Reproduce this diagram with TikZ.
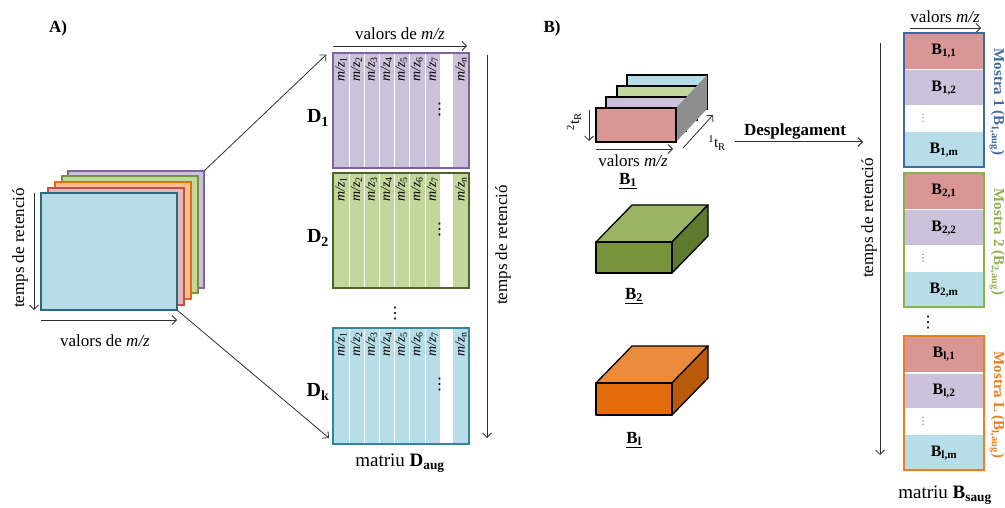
\documentclass[tikz,border=0pt]{standalone}
\usepackage{fontspec}
\setmainfont{Liberation Serif}
\newfontfamily\dotsfont{DejaVu Sans}
\usetikzlibrary{arrows.meta}

\definecolor{blueF}{HTML}{B7DDE8}
\definecolor{blueD}{HTML}{2A6A80}
\definecolor{pinkF}{HTML}{E6B9B8}
\definecolor{pinkD}{HTML}{C0504D}
\definecolor{pinkB}{HTML}{D99694}
\definecolor{orangeF}{HTML}{FAC090}
\definecolor{orangeD}{HTML}{E46C0A}
\definecolor{greenF}{HTML}{C3D69B}
\definecolor{greenD}{HTML}{77933C}
\definecolor{greenDD}{HTML}{4F6228}
\definecolor{purpleF}{HTML}{CCC1DA}
\definecolor{purpleD}{HTML}{8064A2}
\definecolor{tealD}{HTML}{31859C}
\definecolor{sampleA}{HTML}{3F6AA0}
\definecolor{sampleB}{HTML}{8DB04F}
\definecolor{sampleC}{HTML}{EE7D1E}
\definecolor{slabGf}{HTML}{77933C}
\definecolor{slabGt}{HTML}{9BB365}
\definecolor{slabGs}{HTML}{5F7A2E}
\definecolor{slabOf}{HTML}{E46C0A}
\definecolor{slabOt}{HTML}{EB8B3C}
\definecolor{slabOs}{HTML}{B85A0A}
\definecolor{ink}{HTML}{303030}
\definecolor{sidegray}{HTML}{8E8E8E}

\newcommand\fsz[1]{\fontsize{#1}{#1}\selectfont}

\tikzset{
  lbl/.style={font=\fsz{17}, inner sep=0, outer sep=0},
  big/.style={font=\fsz{19}, inner sep=0, outer sep=0},
  arr/.style={draw=ink, line width=0.8pt, -{Straight Barb[length=4.5pt,width=9pt]}},
  sheet/.style={anchor=north west, inner sep=0, outer sep=0, line width=1.3pt,
                minimum width=136, minimum height=117},
  mzlbl/.style={rotate=90, anchor=east, font=\fsz{14}, inner sep=0, outer sep=0},
  dname/.style={font=\fsz{20}\bfseries, inner sep=0, outer sep=0},
  layer/.style={anchor=north west, inner sep=0, outer sep=0, draw=black, line width=1.2pt,
                minimum width=80, minimum height=34},
  frame/.style={anchor=north west, inner sep=0, outer sep=0, line width=1.6pt,
                minimum width=80, minimum height=134},
  blbl/.style={font=\fsz{16}\bfseries, inner sep=0, outer sep=0},
  side/.style={rotate=-90, font=\fsz{15}\bfseries, inner sep=0, outer sep=0},
  slabline/.style={draw=black, line width=1.3pt, line join=round},
  vdot/.style={font=\dotsfont\fsz{#1}, inner sep=0, outer sep=0},
}

% one matrix block of the augmented matrix: name, top, height, fill, border
\newcommand\mzmatrix[5]{%
  \node[anchor=north west, inner sep=0, outer sep=0, minimum width=136,
        minimum height=#3, fill=#4] (#1) at (333,#2) {};
  \foreach \xx in {349,364,379,394,409,425}{
    \draw[white, line width=1pt] (\xx,#2) -- (\xx,#2+#3);
  }
  \fill[white] (440,#2) rectangle (453,#2+#3);
  \foreach \cx/\k in {341/1,356.5/2,371.5/3,386.5/4,401.5/5,417/6,432.5/7}{
    \node[mzlbl] (#1-\k) at (\cx,#2+4) {\textit{m/z}\textsubscript{\k}};
  }
  \node[mzlbl] (#1-n) at (461,#2+4) {\textit{m/z}\textsubscript{n}};
  \node[vdot=16] (#1-dots) at (439.5,#2+57) {⋮};
  \draw[draw=#5, line width=1.6pt] (#1.north west) rectangle (#1.south east);
}

% one sample of the unfolded matrix: name, top, index, colour, side label
\newcommand\samplebox[5]{%
  \fill[pinkB] (904,#2) rectangle (984,#2+36);
  \fill[purpleF] (904,#2+37.5) rectangle (984,#2+72);
  \fill[blueF] (904,#2+99) rectangle (984,#2+134);
  \node[frame, draw=#4] (#1) at (904,#2) {};
  \node[blbl] (#1-a) at (944,#2+18) {B\textsubscript{#3,1}};
  \node[blbl] (#1-b) at (944,#2+55) {B\textsubscript{#3,2}};
  \node[vdot=10, text=black!60] (#1-d) at (923,#2+85.5) {⋮};
  \node[blbl] (#1-m) at (944,#2+117) {B\textsubscript{#3,m}};
  \node[side, text=#4] (#1-s) at (997,#2+69) {#5};
}

% a solid slab seen in perspective: top of the front face, front height, colours
\newcommand\slab[5]{%
  \filldraw[slabline, fill=#4] (596,#1) -- (632,#1-37) -- (708,#1-37) -- (672,#1) -- cycle;
  \filldraw[slabline, fill=#5] (672,#1) -- (708,#1-37) -- (708,#1-37+#2) -- (672,#1+#2) -- cycle;
  \filldraw[slabline, fill=#3] (596,#1) rectangle (672,#1+#2);
}

\begin{document}
\begin{tikzpicture}[x=1pt,y=-1pt]
\useasboundingbox (0,0) rectangle (1005,508);

% ---------------- A) ----------------
\node[font=\fsz{17}\bfseries, inner sep=0] (A) at (58,28) {A)};

% stack of data matrices
\node[sheet, fill=purpleF, draw=purpleD] (s5) at (68,171) {};
\node[sheet, fill=greenF,  draw=greenD]  (s4) at (62,176) {};
\node[sheet, fill=orangeF, draw=orangeD] (s3) at (55,182) {};
\node[sheet, fill=pinkF,   draw=pinkD]   (s2) at (48,188) {};
\node[sheet, fill=blueF,   draw=blueD]   (s1) at (41,193) {};

\coordinate (tl0) at (34,193);
\coordinate (tl1) at (34,310);
\draw[arr] (tl0) -- (tl1);
\node[lbl, rotate=90] (tlab) at (20,248) {temps de retenció};
\coordinate (ml0) at (41,320);
\coordinate (ml1) at (177,320);
\draw[arr] (ml0) -- (ml1);
\node[lbl] (mlab) at (105,341) {valors de \textit{m/z}};

% augmented matrix
\mzmatrix{D1m}{53}{115}{purpleF}{purpleD}
\mzmatrix{D2m}{173}{115}{greenF}{greenDD}
\mzmatrix{Dkm}{328}{116}{blueF}{tealD}

\node[dname] (D1) at (318,118) {D\textsubscript{1}};
\node[dname] (D2) at (318,238) {D\textsubscript{2}};
\node[dname] (Dk) at (318,392) {D\textsubscript{k}};
\node[vdot=16] (Ddots) at (395,314) {⋮};

\draw[arr, shorten >=1pt] (s5.north east) -- (327,54);
\draw[arr] (s1.south east) -- (329,438);

\coordinate (mt0) at (333,46);
\coordinate (mt1) at (467,46);
\draw[arr] (mt0) -- (mt1);
\node[lbl] (mtl) at (400,34) {valors de \textit{m/z}};
\coordinate (tr0) at (487,55);
\coordinate (tr1) at (487,438);
\draw[arr] (tr0) -- (tr1);
\node[lbl, rotate=90] (trl) at (503,245) {temps de retenció};
\node[big] (Daug) at (400,463) {matriu \textbf{D\textsubscript{aug}}};

% ---------------- B) ----------------
\node[font=\fsz{17}\bfseries, inner sep=0] (B) at (552,28) {B)};

% first sample as a stack of slices
\node[layer, fill=blueF]   (b4) at (627,75) {};
\node[layer, fill=greenF]  (b3) at (617,86) {};
\node[layer, fill=purpleF] (b2) at (606,97) {};
\fill[sidegray] (676,108) -- (707,75) -- (707,109) -- (676,142) -- cycle;
\node[layer, fill=pinkB]   (b1) at (596,108) {};

\coordinate (v0) at (589,110);
\coordinate (v1) at (589,141);
\draw[arr] (v0) -- (v1);
\node[font=\fsz{15}, rotate=90, inner sep=0] (t2) at (574,122) {\textsuperscript{2}t\textsubscript{R}};
\coordinate (h0) at (596,149);
\coordinate (h1) at (673,149);
\draw[arr] (h0) -- (h1);
\node[lbl] (hl) at (633,161) {valors \textit{m/z}};
\coordinate (d0) at (683,148);
\coordinate (d1) at (713,115);
\draw[arr] (d0) -- (d1);
\node[font=\fsz{15}, inner sep=0] (t1) at (717,143) {\textsuperscript{1}t\textsubscript{R}};
\node[font=\fsz{17}\bfseries, inner sep=0] (B1l) at (628,181) {\underline{B\textsubscript{1}}};

% further samples
\slab{242}{31}{slabGf}{slabGt}{slabGs}
\node[font=\fsz{17}\bfseries, inner sep=0] (B2l) at (634,296) {\underline{B\textsubscript{2}}};
\slab{383}{32}{slabOf}{slabOt}{slabOs}
\node[font=\fsz{17}\bfseries, inner sep=0] (Bll) at (634,440) {\underline{B\textsubscript{l}}};

% unfolding
\node[font=\fsz{17}\bfseries, inner sep=0] (unf) at (795,131) {Desplegament};
\coordinate (u0) at (735,142);
\coordinate (u1) at (863,142);
\draw[arr, line width=1pt] (u0) -- (u1);

% unfolded matrix
\coordinate (rv0) at (880,43);
\coordinate (rv1) at (880,455);
\draw[arr] (rv0) -- (rv1);
\node[lbl, rotate=90] (rvl) at (869,218) {temps de retenció};
\coordinate (rh0) at (910,28);
\coordinate (rh1) at (981,28);
\draw[arr] (rh0) -- (rh1);
\node[lbl] (rhl) at (945,17) {valors \textit{m/z}};

\samplebox{S1}{33}{1}{sampleA}{Mostra 1 (B\textsubscript{1,aug})}
\samplebox{S2}{173}{2}{sampleB}{Mostra 2 (B\textsubscript{2,aug})}
\node[vdot=16] (Sdots) at (928,323) {⋮};
\samplebox{SL}{336}{l}{sampleC}{Mostra L (B\textsubscript{l,aug})}

\node[big] (Bsaug) at (945,495) {matriu \textbf{B\textsubscript{saug}}};
\end{tikzpicture}
\end{document}
